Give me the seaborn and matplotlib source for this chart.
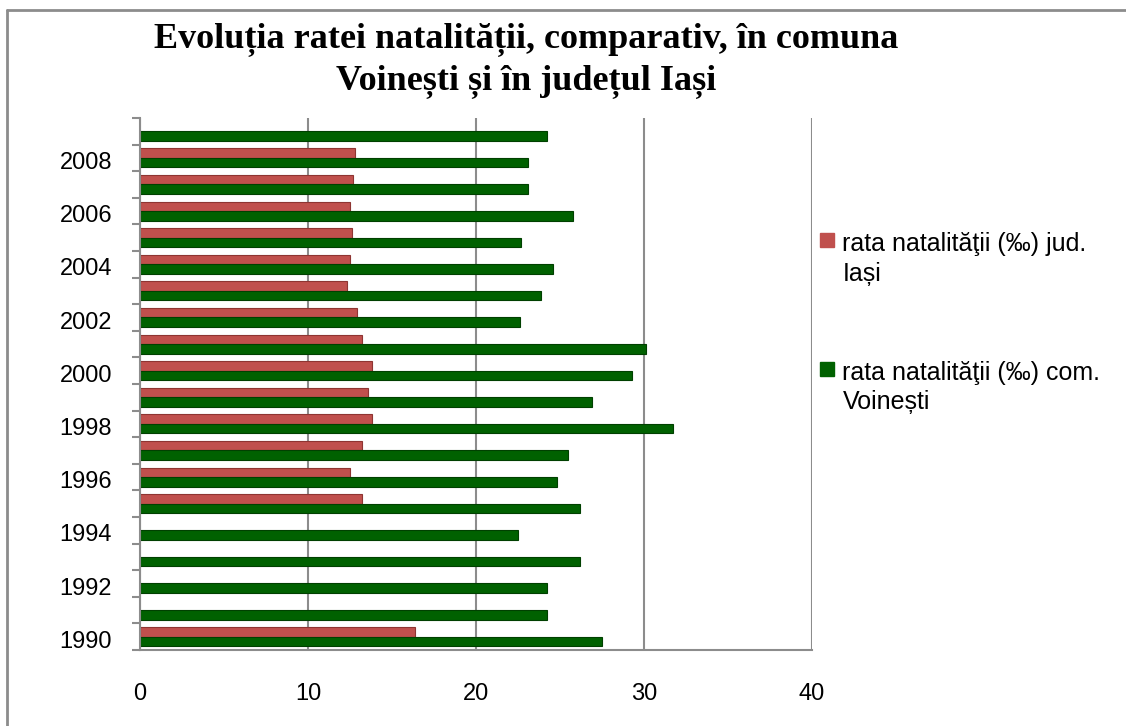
import numpy as np
import pandas as pd
import matplotlib
matplotlib.use("Agg")
import matplotlib.pyplot as plt
import matplotlib.patches as mpatches
from matplotlib.legend_handler import HandlerPatch
from matplotlib.lines import Line2D
import seaborn as sns

# date
years = list(range(1990, 2010))
rata_voinesti = [27.5, 24.2, 24.2, 26.2, 22.5, 26.2, 24.8, 25.5, 31.7, 26.9,
                 29.3, 30.1, 22.6, 23.9, 24.6, 22.7, 25.8, 23.1, 23.1, 24.2]
rata_iasi = [16.4, np.nan, np.nan, np.nan, np.nan, 13.2, 12.5, 13.2, 13.8, 13.6,
             13.8, 13.2, 12.9, 12.3, 12.5, 12.6, 12.5, 12.7, 12.8, np.nan]

serie_iasi = "rata natalităţii (‰) jud.\nIași"
serie_voinesti = "rata natalităţii (‰) com.\nVoinești"
titlu = "Evoluția ratei natalității, comparativ, în comuna\nVoinești și în județul Iași"

culori = {serie_iasi: "#C0504D", serie_voinesti: "#006100"}
margini = {serie_iasi: "#8E3532", serie_voinesti: "#004000"}
gri = "#8c8c8c"

df = pd.DataFrame({"an": years, serie_iasi: rata_iasi, serie_voinesti: rata_voinesti})
df = df.melt(id_vars="an", var_name="serie", value_name="rata").dropna()
df["an"] = df["an"].astype(str)
order = [str(y) for y in reversed(years)]
hue_order = [serie_iasi, serie_voinesti]

sns.set_style("white")
plt.rcParams["font.family"] = ["Liberation Sans", "DejaVu Sans"]
plt.rcParams["text.color"] = "black"
plt.rcParams["xtick.labelcolor"] = "black"
plt.rcParams["ytick.labelcolor"] = "black"

fig = plt.figure(figsize=(11.26, 7.26), dpi=100)
ax = fig.add_axes([0.1243, 0.1047, 0.5968, 0.7328])

sns.barplot(data=df, x="rata", y="an", hue="serie", order=order, hue_order=hue_order,
            palette=culori, orient="h", width=0.72, saturation=1, legend=False, ax=ax)

for cont, serie in zip(ax.containers, hue_order):
    for bar in cont:
        bar.set_edgecolor(margini[serie])
        bar.set_linewidth(0.8)

# axa x
ax.set_xlim(0, 40)
ax.set_xticks(range(0, 41, 10))
ax.xaxis.grid(True, color=gri, lw=1.5)
ax.set_axisbelow(True)
ax.tick_params(axis="x", length=7.5, width=1.5, color=gri, pad=16, labelsize=17)
ax.set_xlabel("")

# axa y: etichete la fiecare doi ani, liniute intre categorii
pare = [y for y in years if y % 2 == 0]
ax.set_yticks([order.index(str(y)) + 0.1 for y in pare], labels=[str(y) for y in pare])
ax.set_yticks(np.arange(-0.5, len(order), 1), minor=True)
ax.tick_params(axis="y", which="major", length=0, pad=20, labelsize=17)
ax.tick_params(axis="y", which="minor", length=6, width=1.5, color=gri, left=True)
ax.set_ylim(len(order) - 0.5, -0.5)
ax.set_ylabel("")

for s in ["top", "right"]:
    ax.spines[s].set_visible(False)
for s in ["left", "bottom"]:
    ax.spines[s].set_color(gri)
    ax.spines[s].set_linewidth(1.5)


def patrat_sus(legend, orig_handle, xdescent, ydescent, width, height, fontsize):
    s = 0.55 * fontsize
    return mpatches.Rectangle((-xdescent, 0.85 * fontsize), s, s)


handles = [mpatches.Patch(color=culori[s]) for s in hue_order]
leg = ax.legend(handles, hue_order, loc="upper left",
                bbox_to_anchor=(820 / 1126, 1 - 232 / 726), bbox_transform=fig.transFigure,
                frameon=False, fontsize=18, handlelength=0.6, handletextpad=0.3,
                labelspacing=3.0, borderpad=0, borderaxespad=0,
                handler_map={mpatches.Patch: HandlerPatch(patch_func=patrat_sus)})
for t in leg.get_texts():
    t.set_linespacing(1.3)

fig.text(0.467, 1 - 60 / 726, titlu, ha="center", va="center", fontsize=26,
         fontweight="bold", family=["Liberation Serif", "DejaVu Serif"], linespacing=1.35)

# chenarul graficului
fig.add_artist(Line2D([7 / 1126, 1], [1 - 10 / 726] * 2, transform=fig.transFigure, color=gri, lw=2))
fig.add_artist(Line2D([7 / 1126] * 2, [0, 1 - 10 / 726], transform=fig.transFigure, color=gri, lw=2))

fig.savefig("out.png", dpi=100)
